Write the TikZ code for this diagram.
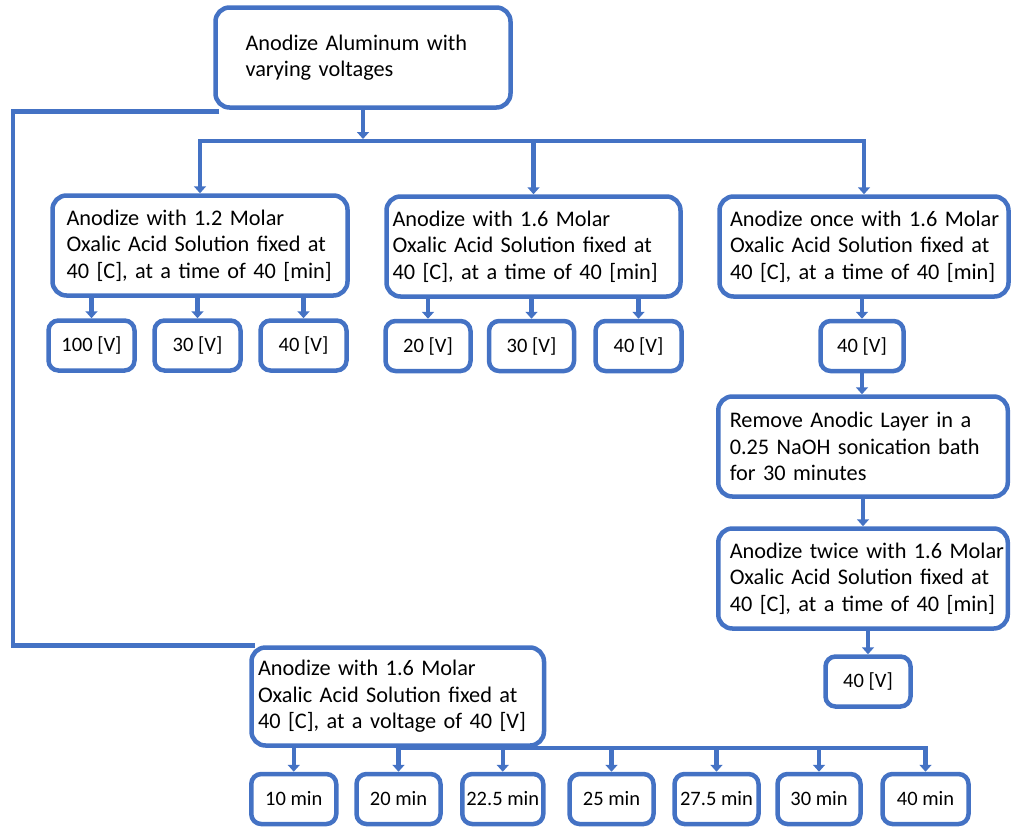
\documentclass[tikz,border=0pt]{standalone}
\usepackage{fontspec}
\setmainfont{Carlito}
\usetikzlibrary{arrows.meta,calc}
\definecolor{ob}{HTML}{4472C4}
\newcommand\ml[1]{\mbox{#1}}
\begin{document}
\begin{tikzpicture}[x=1pt,y=-1pt,
  line/.style={draw=ob,line width=4.5pt},
  arr/.style={line,-{Triangle[width=12pt,length=7pt]}},
  bigbox/.style n args={3}{draw=ob,line width=4.5pt,rounded corners=14pt,fill=white,
    minimum width=#1pt,minimum height=#2pt,inner xsep=0pt,inner ysep=0pt,
    text width={(#1-2*#3)*1pt},align=left,font=\fontsize{22.3}{26.5}\selectfont},
  smallbox/.style={draw=ob,line width=4.5pt,rounded corners=10pt,fill=white,
    minimum width=#1pt,minimum height=50pt,inner sep=0pt,font=\fontsize{20.5}{24}\selectfont},
]
\useasboundingbox (0,0) rectangle (1011,827);

\node[bigbox={295}{100}{30}] (top) at (363,57.5) {\ml{Anodize Aluminum with}\\\ml{varying voltages}};

\node[bigbox={295}{100}{14}] (b1) at (200,245.5) {\ml{Anodize with 1.2 Molar}\\\ml{Oxalic Acid Solution fixed at}\\\ml{40 [C], at a time of 40 [min]}};
\node[bigbox={294}{100}{6}] (b2) at (533.5,246.5) {\ml{Anodize with 1.6 Molar}\\\ml{Oxalic Acid Solution fixed at}\\\ml{40 [C], at a time of 40 [min]}};
\node[bigbox={289}{100}{10.5}] (b3) at (864,246.5) {\ml{Anodize once with 1.6 Molar}\\\ml{Oxalic Acid Solution fixed at}\\\ml{40 [C], at a time of 40 [min]}};

\node[smallbox=86] (s11) at (91.5,345.5) {100 [V]};
\node[smallbox=86] (s12) at (197.5,345.5) {30 [V]};
\node[smallbox=86] (s13) at (303.5,345.5) {40 [V]};
\node[smallbox=85] (s21) at (428,346) {20 [V]};
\node[smallbox=85] (s22) at (531.5,346) {30 [V]};
\node[smallbox=86] (s23) at (638.5,346) {40 [V]};
\node[smallbox=83] (s31) at (862,346) {40 [V]};

\node[bigbox={289.5}{100}{11.5}] (rm) at (863,446.5) {\ml{Remove Anodic Layer in a}\\\ml{0.25 NaOH sonication bath}\\\ml{for 30 minutes}};
\node[bigbox={289.5}{100}{11.5}] (tw) at (863,578.5) {\ml{Anodize twice with 1.6 Molar}\\\ml{Oxalic Acid Solution fixed at}\\\ml{40 [C], at a time of 40 [min]}};
\node[smallbox=85] (s32) at (868,681.5) {40 [V]};

\node[bigbox={292.5}{98}{6.5}] (bot) at (397.75,696.5) {\ml{Anodize with 1.6 Molar}\\\ml{Oxalic Acid Solution fixed at}\\\ml{40 [C], at a voltage of 40 [V]}};

\node[smallbox=85] (m1) at (293.75,799) {10 min};
\node[smallbox=84] (m2) at (398.5,799) {20 min};
\node[smallbox=81] (m3) at (502.75,799) {22.5 min};
\node[smallbox=84] (m4) at (611.5,799) {25 min};
\node[smallbox=84] (m5) at (716.5,799) {27.5 min};
\node[smallbox=83] (m6) at (819,799) {30 min};
\node[smallbox=86] (m7) at (925.5,799) {40 min};

% top to hub
\coordinate (hub) at (363,141);
\draw[arr,shorten >=2pt] (top.south) -- (top.south |- hub);
\draw[arr] (hub) -| (b1.north);
\draw[arr] (hub) -| (b3.north);
\draw[arr] (b2.north |- hub) -- (b2.north);

% first level children
\foreach \c/\p in {s11/b1,s12/b1,s13/b1,s21/b2,s22/b2,s23/b2,s31/b3}
  \draw[arr] (\c.north |- \p.south) -- (\c.north);
\draw[arr] (s31.south) -- (s31.south |- rm.north);
\draw[arr] (rm.south) -- (tw.north);
\draw[arr] (s32.north |- tw.south) -- (s32.north);

% left line
\coordinate (lc) at (13,400);
\draw[line] ($(top.south west)+(6,1.5)$) -| (lc) |- ($(bot.north west)+(6,0)$);

% bottom bar
\draw[arr] (bot.south) -| (m7.north);
\foreach \c in {m1,m2,m3,m4,m5,m6}
  \draw[arr] (\c.north |- bot.south) -- (\c.north);
\end{tikzpicture}
\end{document}
